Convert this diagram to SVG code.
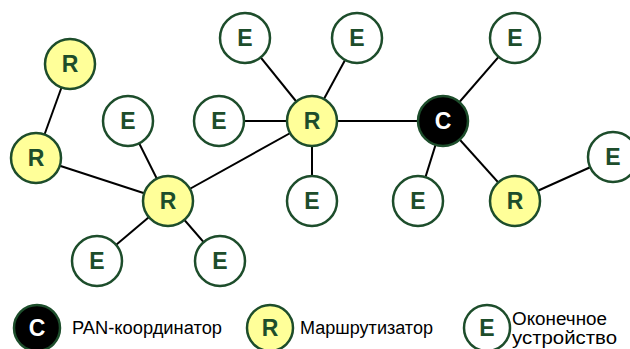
<svg xmlns="http://www.w3.org/2000/svg" width="630" height="349" viewBox="0 0 630 349">
<style>
.n circle{stroke:#1d4d2b;stroke-width:2.5}
.r circle{fill:#ffff99}
.e circle{fill:#ffffff}
.c circle{fill:#000000}
.n text{font-family:"Liberation Sans",Arial,sans-serif;font-weight:bold;font-size:23px;text-anchor:middle;fill:#1d4d2b}
.c text{fill:#ffffff}
.lbl{font-family:"Liberation Sans",Arial,sans-serif;font-size:18px;fill:#000000}
#connectors line{stroke:#000000;stroke-width:2}
</style>
<g id="connectors">
<line x1="70" y1="64" x2="36" y2="158"/>
<line x1="36" y1="158" x2="168" y2="201"/>
<line x1="128" y1="121" x2="168" y2="201"/>
<line x1="97" y1="261" x2="168" y2="201"/>
<line x1="220" y1="261" x2="168" y2="201"/>
<line x1="168" y1="201" x2="312" y2="121"/>
<line x1="245" y1="38" x2="312" y2="121"/>
<line x1="357" y1="38" x2="312" y2="121"/>
<line x1="219" y1="121" x2="312" y2="121"/>
<line x1="312" y1="201" x2="312" y2="121"/>
<line x1="312" y1="121" x2="443" y2="121"/>
<line x1="515" y1="38" x2="443" y2="121"/>
<line x1="418" y1="201" x2="443" y2="121"/>
<line x1="515" y1="201" x2="443" y2="121"/>
<line x1="515" y1="201" x2="613" y2="157"/>
</g>
<g id="R1" class="n r"><circle cx="70" cy="64" r="25"/><text x="70" y="72">R</text></g>
<g id="R2" class="n r"><circle cx="36" cy="158" r="25"/><text x="36" y="166">R</text></g>
<g id="E1" class="n e"><circle cx="128" cy="121" r="25"/><text x="128" y="129">E</text></g>
<g id="R3" class="n r"><circle cx="168" cy="201" r="25"/><text x="168" y="209">R</text></g>
<g id="E2" class="n e"><circle cx="97" cy="261" r="25"/><text x="97" y="269">E</text></g>
<g id="E3" class="n e"><circle cx="220" cy="261" r="25"/><text x="220" y="269">E</text></g>
<g id="E4" class="n e"><circle cx="245" cy="38" r="25"/><text x="245" y="46">E</text></g>
<g id="E5" class="n e"><circle cx="357" cy="38" r="25"/><text x="357" y="46">E</text></g>
<g id="E6" class="n e"><circle cx="219" cy="121" r="25"/><text x="219" y="129">E</text></g>
<g id="R4" class="n r"><circle cx="312" cy="121" r="25"/><text x="312" y="129">R</text></g>
<g id="E7" class="n e"><circle cx="312" cy="201" r="25"/><text x="312" y="209">E</text></g>
<g id="C1" class="n c"><circle cx="443" cy="121" r="25"/><text x="443" y="129">C</text></g>
<g id="E8" class="n e"><circle cx="515" cy="38" r="25"/><text x="515" y="46">E</text></g>
<g id="E9" class="n e"><circle cx="418" cy="201" r="25"/><text x="418" y="209">E</text></g>
<g id="R5" class="n r"><circle cx="515" cy="201" r="25"/><text x="515" y="209">R</text></g>
<g id="E10" class="n e"><circle cx="613" cy="157" r="25"/><text x="613" y="165">E</text></g>
<g id="legend">
<g id="legC" class="n c"><circle cx="37" cy="328" r="23"/><text x="37" y="336">C</text></g>
<text class="lbl" x="72" y="334" textLength="150" lengthAdjust="spacingAndGlyphs">PAN-координатор</text>
<g id="legR" class="n r"><circle cx="270" cy="328" r="23"/><text x="270" y="336">R</text></g>
<text class="lbl" x="300" y="334" textLength="133" lengthAdjust="spacingAndGlyphs">Маршрутизатор</text>
<g id="legE" class="n e"><circle cx="487" cy="328" r="23"/><text x="487" y="336">E</text></g>
<text class="lbl" x="512" y="325" textLength="95" lengthAdjust="spacingAndGlyphs">Оконечное</text>
<text class="lbl" x="512" y="344" textLength="105" lengthAdjust="spacingAndGlyphs">устройство</text>
</g>
</svg>
